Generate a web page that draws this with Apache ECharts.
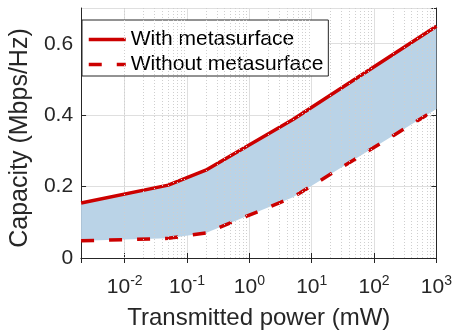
<!DOCTYPE html>
<html>
<head>
<meta charset="utf-8">
<script src="https://cdn.jsdelivr.net/npm/echarts@6/dist/echarts.min.js"></script>
<style>
html, body { margin: 0; padding: 0; background: #fff; }
#chart { width: 455px; height: 335px; }
</style>
</head>
<body>
<div id="chart"></div>
<script>
// transmitted power in mW, capacity in Mbps/Hz
const powerMw = [0.002, 0.05, 0.2, 5, 1000]
const withMeta = [0.154, 0.204, 0.246, 0.388, 0.649]
const withoutMeta = [0.048, 0.055, 0.070, 0.170, 0.417]
const seriesNames = ['With metasurface', 'Without metasurface']

const font = 'Liberation Sans, Arial, Helvetica, sans-serif'
const axisColor = '#262626'
const red = '#cc0000'

const pairs = (ys) => powerMw.map((x, i) => [x, ys[i]])

// dotted minor grid at 2..9 x 10^k inside the axis range
const minorGrid = []
for (let k = -3; k <= 2; k++) {
  for (let m = 2; m <= 9; m++) {
    const v = m * Math.pow(10, k)
    if (v > 0.002 && v < 1000) minorGrid.push(v)
  }
}

const xLabel = (value) => {
  const e = Math.log10(value)
  const r = Math.round(e)
  if (Math.abs(e - r) > 1e-6) return ''
  return '{b|10}{s|' + r + '}'
}

const chart = echarts.init(document.getElementById('chart'))

const logAxisBase = {
  type: 'log',
  logBase: 10,
  min: 0.002,
  max: 1000,
  axisLine: { show: true, lineStyle: { color: axisColor, width: 1 } },
  axisTick: { show: true, inside: true, length: 5, lineStyle: { color: axisColor } }
}

chart.setOption({
  animation: false,
  grid: { left: 70, right: 18, top: 8, bottom: 76, containLabel: false },
  legend: {
    data: seriesNames,
    orient: 'vertical',
    left: 82,
    top: 20,
    itemWidth: 37,
    itemHeight: 25,
    itemGap: 4,
    padding: [9, 5, 1, 5],
    backgroundColor: '#fff',
    borderColor: axisColor,
    borderWidth: 1,
    itemStyle: { opacity: 0 },
    lineStyle: { width: 3.5 },
    textStyle: { fontFamily: font, fontSize: 21, color: '#000' }
  },
  xAxis: [
    Object.assign({}, logAxisBase, {
      position: 'bottom',
      name: 'Transmitted power (mW)',
      nameLocation: 'middle',
      nameGap: 48,
      nameTextStyle: { fontFamily: font, fontSize: 24, color: axisColor },
      axisLabel: {
        formatter: xLabel,
        margin: 16,
        rich: {
          b: { fontFamily: font, fontSize: 21, color: axisColor },
          s: { fontFamily: font, fontSize: 14, color: axisColor, padding: [0, 0, 12, 0] }
        }
      },
      splitLine: { show: true, lineStyle: { color: '#dfdfdf', width: 1 } }
    }),
    Object.assign({}, logAxisBase, {
      position: 'top',
      axisLabel: { show: false },
      splitLine: { show: false }
    })
  ],
  yAxis: [
    {
      type: 'value',
      min: 0,
      max: 0.7,
      interval: 0.2,
      name: 'Capacity (Mbps/Hz)',
      nameLocation: 'middle',
      nameGap: 40,
      nameTextStyle: { fontFamily: font, fontSize: 25, color: axisColor, padding: [0, 10, 0, 0] },
      axisLine: { show: true, lineStyle: { color: axisColor } },
      axisTick: { show: true, inside: true, length: 5, lineStyle: { color: axisColor } },
      axisLabel: {
        fontFamily: font, fontSize: 21, color: axisColor, margin: 8,
        showMaxLabel: false,
        formatter: (v) => (Math.abs(v * 5 - Math.round(v * 5)) < 1e-6 ? String(+v.toFixed(1)) : '')
      },
      splitLine: { show: true, lineStyle: { color: '#dfdfdf', width: 1 } }
    },
    {
      type: 'value',
      position: 'right',
      min: 0,
      max: 0.7,
      interval: 0.2,
      axisLine: { show: true, lineStyle: { color: axisColor } },
      axisTick: { show: true, inside: true, length: 5, lineStyle: { color: axisColor } },
      axisLabel: { show: false },
      splitLine: { show: false }
    }
  ],
  series: [
    {
      name: 'minorGrid',
      type: 'line',
      data: [],
      silent: true,
      z: 0,
      markLine: {
        silent: true,
        symbol: 'none',
        label: { show: false },
        lineStyle: { color: '#cfcfcf', width: 1, type: [1, 2] },
        data: minorGrid.map(v => ({ xAxis: v }))
      }
    },
    {
      name: 'band',
      type: 'custom',
      data: pairs(withMeta),
      silent: true,
      z: 1,
      renderItem: (params, api) => {
        if (params.dataIndex !== 0) return null
        const upper = powerMw.map((x, i) => api.coord([x, withMeta[i]]))
        const lower = powerMw.map((x, i) => api.coord([x, withoutMeta[i]])).reverse()
        return {
          type: 'polygon',
          shape: { points: upper.concat(lower) },
          style: { fill: '#bad3e7' }
        }
      }
    },
    {
      name: seriesNames[0],
      type: 'line',
      data: pairs(withMeta),
      symbol: 'none',
      color: red,
      lineStyle: { color: red, width: 3.5 },
      z: 3
    },
    {
      name: seriesNames[1],
      type: 'line',
      data: pairs(withoutMeta),
      symbol: 'none',
      color: red,
      lineStyle: { color: red, width: 3.5, type: [13, 15] },
      z: 3
    }
  ]
})
</script>
</body>
</html>
